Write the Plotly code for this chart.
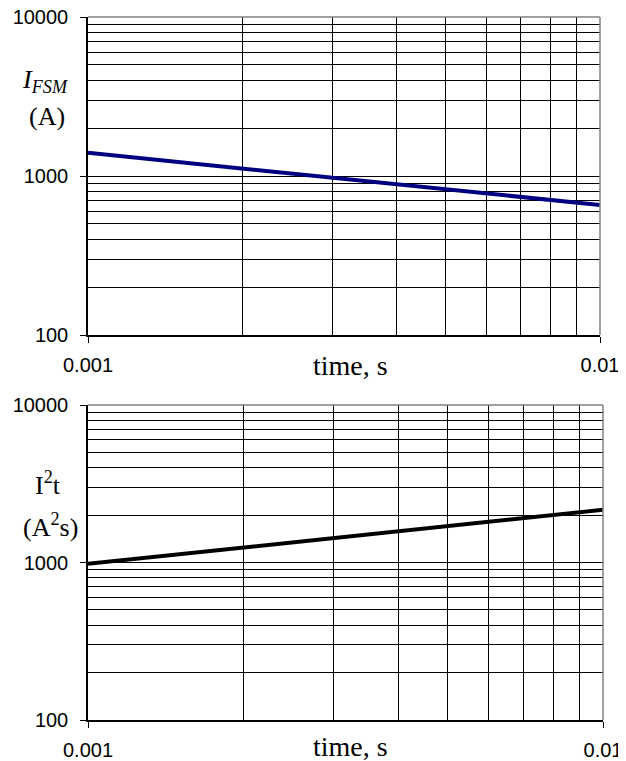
import plotly.graph_objects as go

# Data
time_s = [0.001, 0.002, 0.003, 0.004, 0.005, 0.006, 0.007, 0.008, 0.009, 0.01]
ifsm_a = [1400, 1114, 976, 887, 825, 777, 739, 707, 680, 657]
i2t_a2s = [980, 1244, 1429, 1577, 1701, 1812, 1910, 2000, 2082, 2160]

x_major = [0.001, 0.01]
x_major_text = ["0.001", "0.01"]
x_minor = [0.002, 0.003, 0.004, 0.005, 0.006, 0.007, 0.008, 0.009]
y_major = [100, 1000, 10000]
y_major_text = ["100", "1000", "10000"]
y_minor = [v * m for m in (100, 1000) for v in range(2, 10)]

# page has an 8px body margin; size the figure so it fills the window exactly
OFF = 8
W, H = 626 - OFF, 761 - OFF


def px_x(p):
    return (p - OFF) / W


def px_y(p):
    return 1 - (p - OFF) / H


top_xdom = [px_x(88), px_x(600)]
bot_xdom = [px_x(88), px_x(603)]
top_dom = [px_y(335), px_y(17)]
bot_dom = [px_y(720), px_y(405)]

tick_font = dict(family="Liberation Sans, Arial", size=20, color="black")
title_font = dict(family="Liberation Serif, Times New Roman", size=26, color="black")

fig = go.Figure()
fig.add_trace(go.Scatter(x=time_s, y=ifsm_a, mode="lines",
                         line=dict(color="#000080", width=4),
                         xaxis="x", yaxis="y", showlegend=False))
fig.add_trace(go.Scatter(x=time_s, y=i2t_a2s, mode="lines",
                         line=dict(color="black", width=4),
                         xaxis="x2", yaxis="y2", showlegend=False))


def xaxis(anchor, dom):
    return dict(type="log", domain=dom, anchor=anchor, automargin=False,
                range=[-3, -2], tickmode="array", tickvals=x_major,
                ticktext=x_major_text, ticks="outside", ticklen=6,
                tickcolor="black", tickfont=tick_font, ticklabelstandoff=5,
                ticklabeloverflow="allow",
                showgrid=True, gridcolor="black", gridwidth=1,
                showline=True, linecolor="black", linewidth=1.5,
                minor=dict(tickvals=x_minor, showgrid=True, gridcolor="black",
                           gridwidth=1, ticks=""),
                zeroline=False, fixedrange=True)


def yaxis(anchor, dom):
    return dict(type="log", domain=dom, anchor=anchor, automargin=False,
                range=[2, 4], tickmode="array", tickvals=y_major,
                ticktext=y_major_text, ticks="outside", ticklen=6,
                tickcolor="black", tickfont=tick_font, ticklabelstandoff=8,
                ticklabeloverflow="allow",
                showgrid=True, gridcolor="black", gridwidth=1,
                showline=True, linecolor="black", linewidth=1.5,
                minor=dict(tickvals=y_minor, showgrid=True, gridcolor="black",
                           gridwidth=1, ticks=""),
                zeroline=False, fixedrange=True)


fig.update_layout(
    width=W, height=H,
    margin=dict(l=0, r=0, t=0, b=0),
    paper_bgcolor="white", plot_bgcolor="white",
    xaxis=xaxis("y", top_xdom), yaxis=yaxis("x", top_dom),
    xaxis2=xaxis("y2", bot_xdom), yaxis2=yaxis("x2", bot_dom),
)

# gray top/right frame of each plot area
for xr, yr in (("x", "y"), ("x2", "y2")):
    fig.add_shape(type="line", xref=f"{xr} domain", yref=f"{yr} domain",
                  x0=0, x1=1, y0=1, y1=1, line=dict(color="#808080", width=1.5))
    fig.add_shape(type="line", xref=f"{xr} domain", yref=f"{yr} domain",
                  x0=1, x1=1, y0=0, y1=1, line=dict(color="#808080", width=1.5))

ann = [
    ("<i>I<sub>FSM</sub></i>", 45, 81),
    ("(A)", 47, 117),
    ("I<sup>2</sup>t", 48, 483),
    ("(A<sup>2</sup>s)", 50, 525),
]
for text, px, py in ann:
    fig.add_annotation(text=text, xref="paper", yref="paper",
                       x=px_x(px), y=px_y(py), showarrow=False,
                       xanchor="center", yanchor="middle", font=title_font)

for py in (365, 746):
    fig.add_annotation(text="time, s", xref="paper", yref="paper",
                       x=px_x(350), y=px_y(py), showarrow=False,
                       xanchor="center", yanchor="middle",
                       font=dict(family="Liberation Serif, Times New Roman", size=28, color="black"))

fig.write_html("out.html")
